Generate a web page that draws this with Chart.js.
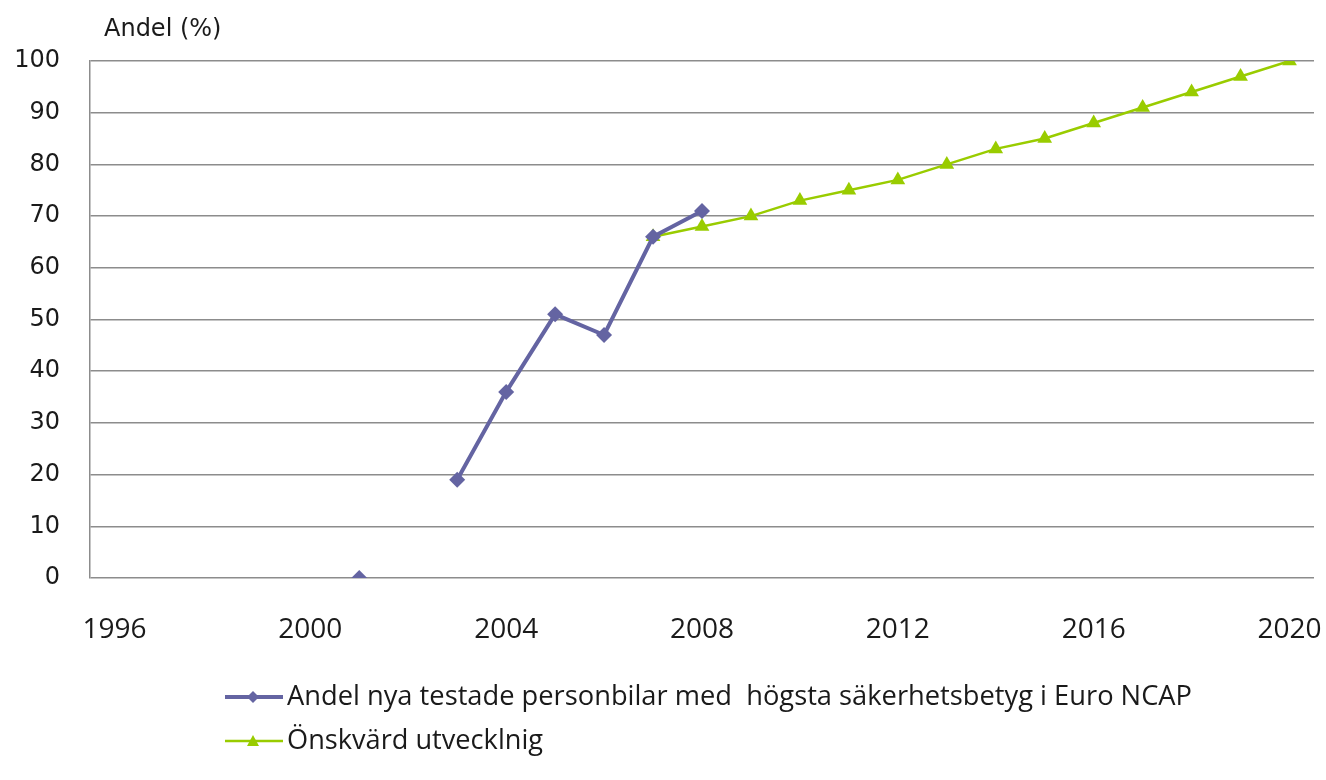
<!DOCTYPE html>
<html>
<head>
<meta charset="utf-8">
<script src="https://cdn.jsdelivr.net/npm/chart.js@4/dist/chart.umd.min.js"></script>
<style>
  html, body { margin: 0; padding: 0; background: #fff; }
  #wrap { width: 1326px; height: 780px; }
</style>
</head>
<body>
<div id="wrap"><canvas id="ncapChart" width="1326" height="780"></canvas></div>
<script>
// Years on the x axis (one category per year)
const years = ['1996', '1997', '1998', '1999', '2000', '2001', '2002', '2003', '2004', '2005', '2006', '2007', '2008',
  '2009', '2010', '2011', '2012', '2013', '2014', '2015', '2016', '2017', '2018', '2019', '2020'];

// Andel nya testade personbilar med högsta säkerhetsbetyg i Euro NCAP
const actualShare = [null, null, null, null, null, 0, null, 19, 36, 51, 47, 66, 71,
  null, null, null, null, null, null, null, null, null, null, null, null];

// Önskvärd utveckling
const targetShare = [null, null, null, null, null, null, null, null, null, null, null, 66, 68,
  70, 73, 75, 77, 80, 83, 85, 88, 91, 94, 97, 100];

const seriesNames = ['Andel nya testade personbilar med  högsta säkerhetsbetyg i Euro NCAP', 'Önskvärd utvecklnig'];
const yTitle = 'Andel (%)';

const purple = '#6464a2';
const green = '#99cc00';

// draws the axis title and the legend (line + marker) like the original
const extras = {
  id: 'extras',
  afterDraw(chart) {
    const ctx = chart.ctx;
    ctx.save();
    ctx.fillStyle = '#1a1a1a';
    ctx.font = '24px "DejaVu Sans"';
    ctx.textBaseline = 'middle';
    ctx.textAlign = 'left';
    ctx.fillText(yTitle, 104, 30);

    const items = [
      { text: seriesNames[0], color: purple, lw: 4, marker: 'diamond', y: 697, w: 905 },
      { text: seriesNames[1], color: green, lw: 2.5, marker: 'triangle', y: 741, w: 256 }
    ];
    items.forEach(it => {
      ctx.strokeStyle = it.color;
      ctx.lineWidth = it.lw;
      ctx.beginPath();
      ctx.moveTo(225, it.y);
      ctx.lineTo(283, it.y);
      ctx.stroke();
      ctx.fillStyle = it.color;
      ctx.beginPath();
      if (it.marker === 'diamond') {
        ctx.moveTo(253, it.y - 6); ctx.lineTo(259, it.y); ctx.lineTo(253, it.y + 6); ctx.lineTo(247, it.y);
      } else {
        ctx.moveTo(253, it.y - 6); ctx.lineTo(259, it.y + 5); ctx.lineTo(247, it.y + 5);
      }
      ctx.closePath();
      ctx.fill();

      ctx.fillStyle = '#1a1a1a';
      ctx.font = '27px "Open Sans"';
      const m = ctx.measureText(it.text).width;
      const sx = it.w / m;
      ctx.save();
      ctx.translate(287, it.y);
      ctx.scale(sx, 1);
      ctx.fillText(it.text, 0, 0);
      ctx.restore();
    });
    ctx.restore();
  }
};

const config = {
  type: 'line',
  data: {
    labels: years,
    datasets: [
      {
        label: seriesNames[0],
        data: actualShare,
        borderColor: purple,
        backgroundColor: purple,
        borderWidth: 4,
        pointStyle: 'rectRot',
        pointRadius: 8,
        pointBorderWidth: 0,
        spanGaps: false,
        tension: 0
      },
      {
        label: seriesNames[1],
        data: targetShare,
        borderColor: green,
        backgroundColor: green,
        borderWidth: 2.5,
        pointStyle: 'triangle',
        pointRadius: 8.5,
        pointBorderWidth: 0,
        tension: 0
      }
    ]
  },
  options: {
    responsive: false,
    animation: false,
    layout: { padding: { top: 61, right: 12, bottom: 132, left: 0 } },
    plugins: {
      legend: { display: false },
      tooltip: { enabled: false }
    },
    scales: {
      x: {
        offset: true,
        grid: { display: false, drawTicks: false },
        border: { display: false },
        ticks: {
          autoSkip: false,
          maxRotation: 0,
          padding: 35,
          color: '#1a1a1a',
          font: { family: '"Open Sans"', size: 28 },
          callback: function (val, idx) { return idx % 4 === 0 ? this.getLabelForValue(val) : ''; }
        },
        afterFit(scale) {
          scale.height = 70;
          scale.paddingLeft = 0;
          scale.paddingRight = 0;
        }
      },
      y: {
        min: 0,
        max: 100,
        grid: { color: '#8c8c8c', lineWidth: 1.5, drawTicks: false },
        border: { display: true, color: '#8c8c8c', width: 1.5 },
        ticks: {
          stepSize: 10,
          padding: 30,
          color: '#1a1a1a',
          font: { family: '"DejaVu Sans"', size: 24 }
        },
        afterFit(scale) { scale.width = 90; }
      }
    }
  },
  plugins: [extras]
};

window.onload = function () {
  var ctx = document.getElementById('ncapChart').getContext('2d');
  window.ncapChart = new Chart(ctx, config);
};
</script>
</body>
</html>
